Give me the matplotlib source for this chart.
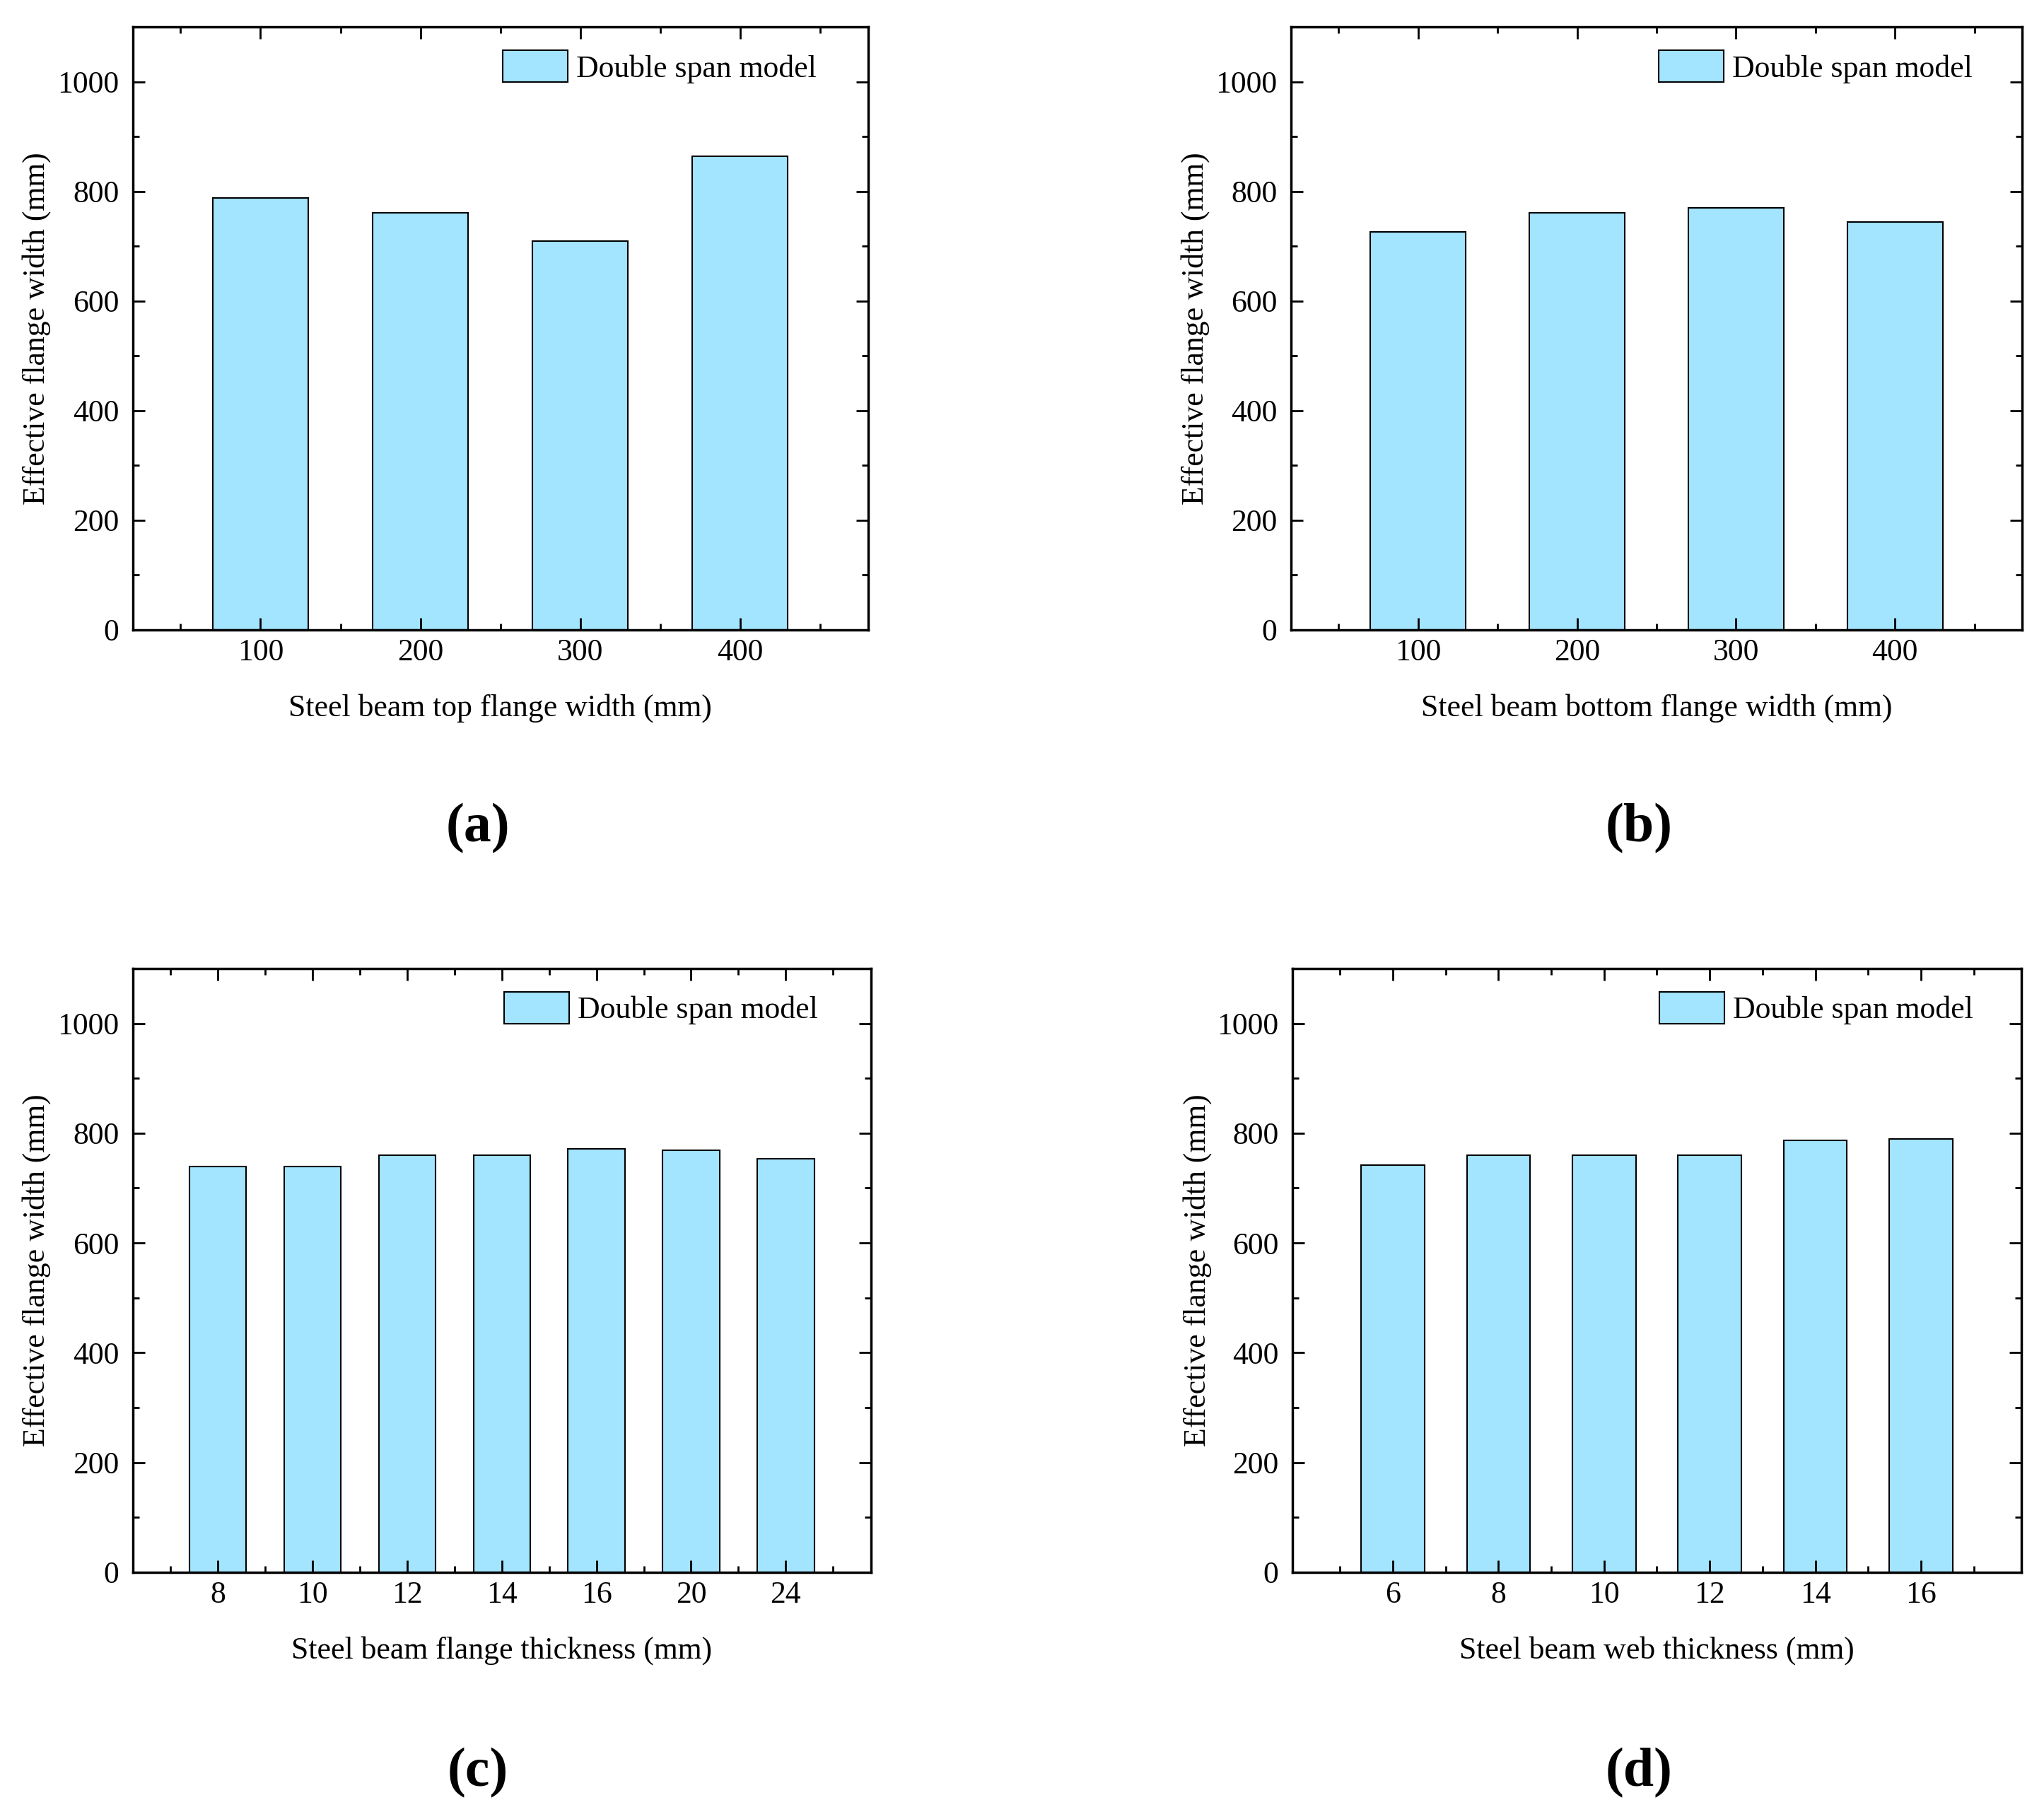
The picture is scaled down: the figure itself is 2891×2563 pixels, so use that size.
import numpy as np
import matplotlib
matplotlib.use("Agg")
import matplotlib.pyplot as plt
from matplotlib.ticker import MultipleLocator, FixedLocator

# data
# ----------------------------
top_flange_width = [100, 200, 300, 400]
top_flange_eff = [788, 761, 709, 864]

bottom_flange_width = [100, 200, 300, 400]
bottom_flange_eff = [727, 761, 770, 744]

flange_thickness = ["8", "10", "12", "14", "16", "20", "24"]
flange_thickness_eff = [739, 739, 760, 760, 771, 769, 753]

web_thickness = ["6", "8", "10", "12", "14", "16"]
web_thickness_eff = [742, 760, 760, 760, 787, 790]

ylabel = "Effective flange width (mm)"
legend_label = "Double span model"
bar_color = "#A3E4FF"

plt.rcParams['font.family'] = ['Liberation Serif', 'DejaVu Serif']
plt.rcParams['font.size'] = 31.5


def style_axes(ax):
    ax.set_ylim(0, 1100)
    ax.yaxis.set_major_locator(MultipleLocator(200))
    ax.yaxis.set_minor_locator(MultipleLocator(100))
    ax.tick_params(which="both", direction="in", top=True, right=True,
                   width=2)
    ax.tick_params(which="major", length=12)
    ax.tick_params(which="minor", length=6.5)
    ax.tick_params(axis="x", which="major", pad=9)
    ax.tick_params(axis="y", which="major", pad=14)
    for sp in ax.spines.values():
        sp.set_linewidth(2.5)
    ax.set_ylabel(ylabel)
    ax.yaxis.set_label_coords(-0.111, 0.5)
    ax.xaxis.set_label_coords(0.5, -0.106)
    ax.legend(loc="upper left", bbox_to_anchor=(0.482, 0.987),
              frameon=False, borderpad=0, handlelength=2.1,
              handleheight=1.2, handletextpad=0.28, fontsize=31.5)


fig = plt.figure(figsize=(28.91, 25.63), dpi=100)

# (a) top flange width
ax1 = fig.add_axes([0.0649, 0.6524, 0.3597, 0.3326])
ax1.bar(top_flange_width, top_flange_eff, width=60, color=bar_color,
        edgecolor="k", linewidth=1.5, label=legend_label)
ax1.set_xlim(20, 480)
ax1.xaxis.set_major_locator(FixedLocator(top_flange_width))
ax1.xaxis.set_minor_locator(MultipleLocator(50))
ax1.set_xlabel("Steel beam top flange width (mm)")
style_axes(ax1)

# (b) bottom flange width
ax2 = fig.add_axes([0.6316, 0.6524, 0.3577, 0.3326])
ax2.bar(bottom_flange_width, bottom_flange_eff, width=60, color=bar_color,
        edgecolor="k", linewidth=1.5, label=legend_label)
ax2.set_xlim(20, 480)
ax2.xaxis.set_major_locator(FixedLocator(bottom_flange_width))
ax2.xaxis.set_minor_locator(MultipleLocator(50))
ax2.set_xlabel("Steel beam bottom flange width (mm)")
style_axes(ax2)

# (c) flange thickness
ax3 = fig.add_axes([0.0649, 0.1323, 0.3612, 0.3332])
x3 = np.arange(1, len(flange_thickness) + 1)
ax3.bar(x3, flange_thickness_eff, width=0.6, color=bar_color,
        edgecolor="k", linewidth=1.5, label=legend_label)
ax3.set_xlim(0.1, len(flange_thickness) + 0.9)
ax3.set_xticks(x3)
ax3.set_xticklabels(flange_thickness)
ax3.xaxis.set_minor_locator(FixedLocator(np.arange(0.5, len(x3) + 1, 1.0)))
ax3.set_xlabel("Steel beam flange thickness (mm)")
style_axes(ax3)

# (d) web thickness
ax4 = fig.add_axes([0.6323, 0.1323, 0.3566, 0.3332])
x4 = np.arange(1, len(web_thickness) + 1)
ax4.bar(x4, web_thickness_eff, width=0.6, color=bar_color,
        edgecolor="k", linewidth=1.5, label=legend_label)
ax4.set_xlim(0.05, len(web_thickness) + 0.95)
ax4.set_xticks(x4)
ax4.set_xticklabels(web_thickness)
ax4.xaxis.set_minor_locator(FixedLocator(np.arange(0.5, len(x4) + 1, 1.0)))
ax4.set_xlabel("Steel beam web thickness (mm)")
style_axes(ax4)

# panel letters
for x, y, s in [(0.2338, 0.543, "(a)"), (0.8017, 0.543, "(b)"),
                (0.2338, 0.0215, "(c)"), (0.8017, 0.0215, "(d)")]:
    fig.text(x, y, s, ha="center", va="center", fontsize=56,
             fontweight="bold")

plt.savefig("out.png", dpi=100)
